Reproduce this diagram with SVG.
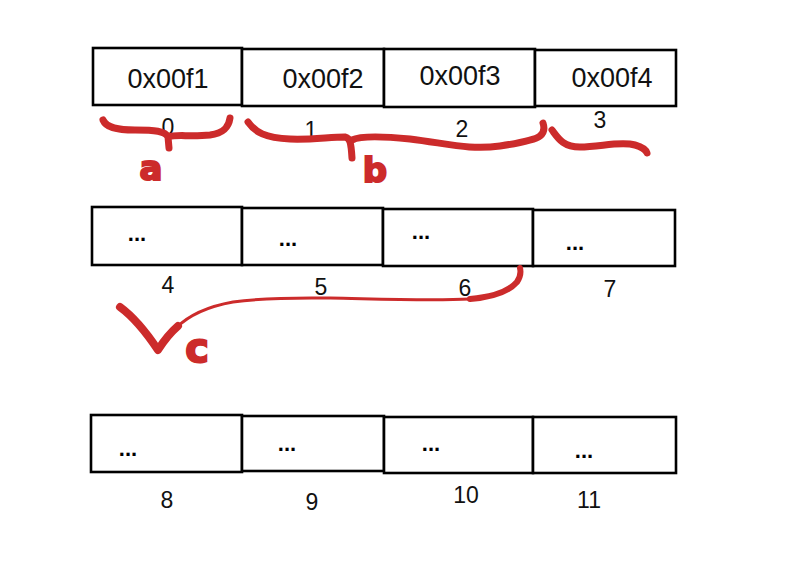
<svg xmlns="http://www.w3.org/2000/svg" width="799" height="567" viewBox="0 0 799 567">
<style>
.box{fill:#fff;stroke:#000;stroke-width:2.6}
.val{font-family:"Liberation Sans",Arial,sans-serif;font-size:27px;fill:#111;text-anchor:middle}
.dots{font-family:"Liberation Sans",Arial,sans-serif;font-size:22px;font-weight:bold;fill:#000;text-anchor:middle}
.idx{font-family:"Liberation Sans",Arial,sans-serif;font-size:23px;fill:#111;text-anchor:middle}
.br{fill:none;stroke:#cc2b2b;stroke-linecap:round;stroke-linejoin:round}
.lbl{font-family:"DejaVu Sans",sans-serif;font-weight:bold;fill:#cc2b2b;stroke:#cc2b2b;stroke-width:2;text-anchor:middle}
</style>
<rect width="799" height="567" fill="#fff"/>
<g id="cell0"><rect class="box" x="93" y="48" width="149" height="57"/><text class="val" x="168" y="88">0x00f1</text><text class="idx" x="168" y="135">0</text></g>
<g id="cell1"><rect class="box" x="242" y="49" width="142" height="57"/><text class="val" x="323" y="88">0x00f2</text><text class="idx" x="311" y="138">1</text></g>
<g id="cell2"><rect class="box" x="384" y="49" width="151" height="58"/><text class="val" x="460" y="85">0x00f3</text><text class="idx" x="462" y="137">2</text></g>
<g id="cell3"><rect class="box" x="535" y="50" width="141" height="56"/><text class="val" x="612" y="87">0x00f4</text><text class="idx" x="600" y="128">3</text></g>
<g id="cell4"><rect class="box" x="92" y="207" width="150" height="58"/><text class="dots" x="137" y="241">...</text><text class="idx" x="168" y="293">4</text></g>
<g id="cell5"><rect class="box" x="242" y="208" width="141" height="57"/><text class="dots" x="288" y="246">...</text><text class="idx" x="321" y="295">5</text></g>
<g id="cell6"><rect class="box" x="383" y="209" width="150" height="57"/><text class="dots" x="421" y="239">...</text><text class="idx" x="465" y="296">6</text></g>
<g id="cell7"><rect class="box" x="533" y="210" width="142" height="56"/><text class="dots" x="575" y="250">...</text><text class="idx" x="610" y="297">7</text></g>
<g id="cell8"><rect class="box" x="91" y="415" width="151" height="57"/><text class="dots" x="128" y="456">...</text><text class="idx" x="167" y="508">8</text></g>
<g id="cell9"><rect class="box" x="242" y="416" width="142" height="55"/><text class="dots" x="287" y="451">...</text><text class="idx" x="312" y="510">9</text></g>
<g id="cell10"><rect class="box" x="384" y="417" width="149" height="56"/><text class="dots" x="431" y="451">...</text><text class="idx" x="466" y="503">10</text></g>
<g id="cell11"><rect class="box" x="533" y="417" width="143" height="56"/><text class="dots" x="584" y="458">...</text><text class="idx" x="589" y="508">11</text></g>
<g id="connectors">
<path class="br" stroke-width="7" d="M103,120 C106,127 115,130 135,130 C155,130 165,131 168,137 L169,148 M169,137 C174,134 190,137 210,135 C226,133 229,125 230,118"/>
<path class="br" stroke-width="7" d="M248,122 C255,132 265,138 290,139 C310,140 330,137 345,137 C350,138 351,142 352,158 M352,140 C360,136 380,136 410,139 C450,144 470,150 500,146 C520,143 535,140 540,136 C545,132 544,126 543,123"/>
<path class="br" stroke-width="7" d="M552,130 C558,138 563,147 580,147 C600,147 620,141 635,145 C642,147 646,150 647,153"/>
<path class="br" stroke-width="8" d="M120,307 C135,318 148,335 158,350 C163,342 170,333 178,326"/>
<path class="br" stroke-width="3" d="M176,328 C188,316 205,307 233,302 C270,297 300,298 330,298 C380,299 430,301 470,299"/>
<path class="br" stroke-width="6" d="M470,299 C495,297 510,290 517,282 C521,276 521,272 520,268"/>
<text class="lbl" x="151" y="180" font-size="34">a</text>
<text class="lbl" x="375" y="182" font-size="34">b</text>
<text class="lbl" x="197" y="362" font-size="40">c</text>
</g>
</svg>
